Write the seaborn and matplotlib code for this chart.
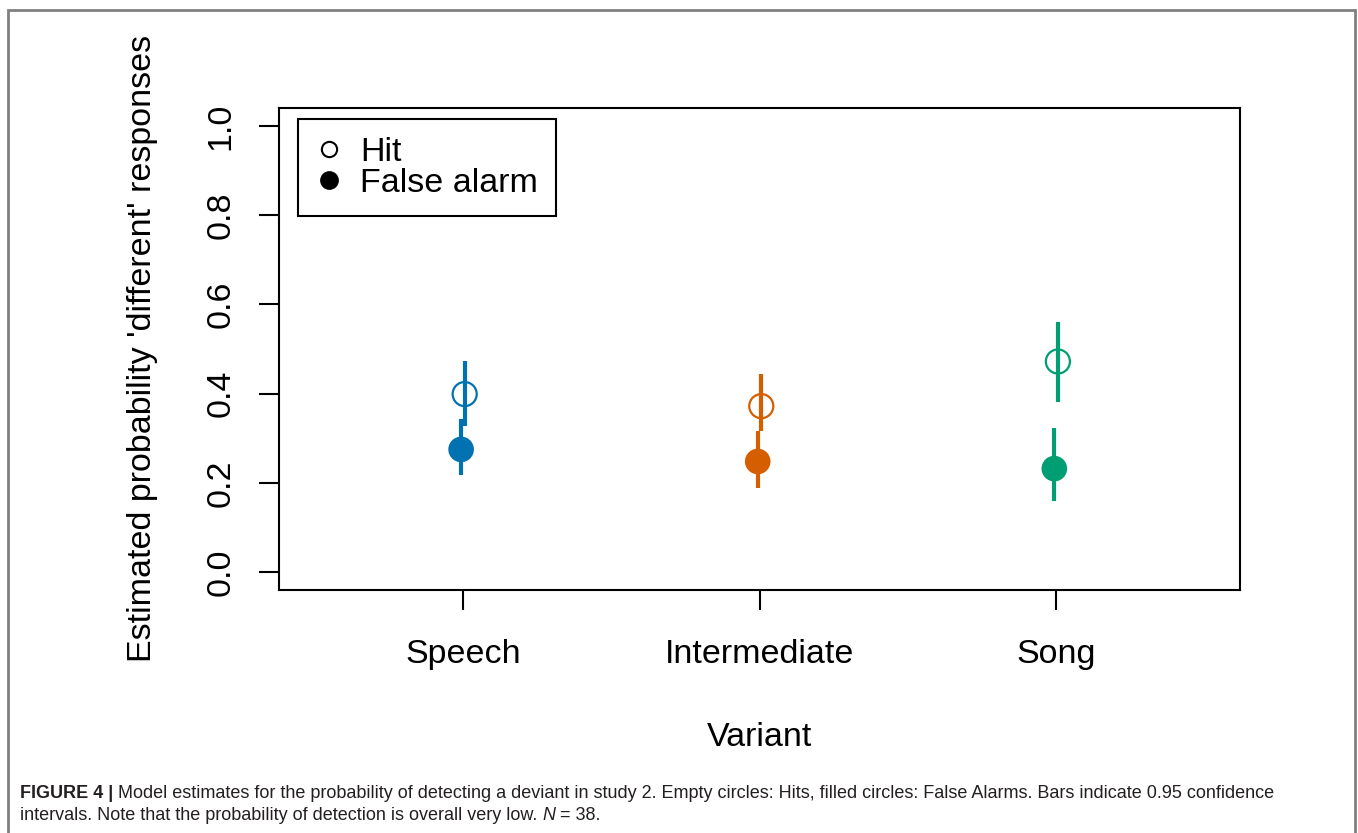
import numpy as np
import pandas as pd
import seaborn as sns
import matplotlib.pyplot as plt
from matplotlib.lines import Line2D
from matplotlib.patches import Rectangle

# Values
variants = ['Speech', 'Intermediate', 'Song']
variant_colors = ['#0072B2', '#D55E00', '#009E73']

hit_est = [0.399, 0.372, 0.472]
hit_lo = [0.327, 0.316, 0.381]
hit_hi = [0.474, 0.445, 0.560]

fa_est = [0.275, 0.248, 0.232]
fa_lo = [0.218, 0.189, 0.160]
fa_hi = [0.343, 0.316, 0.322]

y_ticks = [0.0, 0.2, 0.4, 0.6, 0.8, 1.0]

# long table
rows = []
for i, v in enumerate(variants):
    rows.append(dict(variant=v, response='Hit', pos=i + 0.006,
                     est=hit_est[i], lo=hit_lo[i], hi=hit_hi[i]))
    rows.append(dict(variant=v, response='False alarm', pos=i - 0.006,
                     est=fa_est[i], lo=fa_lo[i], hi=fa_hi[i]))
df = pd.DataFrame(rows)
palette = dict(zip(variants, variant_colors))

sns.set_style('ticks')
plt.rcParams['font.family'] = ['Liberation Sans', 'DejaVu Sans']
plt.rcParams['text.color'] = 'black'
plt.rcParams['axes.labelcolor'] = 'black'

W, H = 1358, 833
fig = plt.figure(figsize=(W / 100, H / 100), dpi=100)
ax = fig.add_axes([279 / W, 1 - 590 / H, (1240 - 279) / W, (590 - 108) / H])

# confidence interval bars
for _, r in df.iterrows():
    ax.vlines(r['pos'], r['lo'], r['hi'], color=palette[r['variant']], lw=3, zorder=2)

# false alarms: filled circles
fa = df[df['response'] == 'False alarm']
sns.scatterplot(data=fa, x='pos', y='est', hue='variant', palette=palette,
                s=340, marker='o', linewidth=0, legend=False, ax=ax, zorder=3)

# hits: empty circles
hit = df[df['response'] == 'Hit']
sns.scatterplot(data=hit, x='pos', y='est', hue='variant', palette=palette,
                s=300, marker='o', linewidth=1.6, legend=False, ax=ax, zorder=3)
coll = ax.collections[-1]
coll.set_edgecolors(coll.get_facecolors())
coll.set_facecolors('none')

ax.set_xlim(-0.62, 2.62)
ax.set_ylim(-0.04, 1.04)
ax.set_xticks(range(len(variants)))
ax.set_xticklabels(variants)
ax.set_yticks(y_ticks)
ax.set_yticklabels([f'{t:.1f}' for t in y_ticks], rotation=90, va='center')
ax.tick_params(axis='both', labelsize=24.5, length=14.5, width=1.5, color='black',
               labelcolor='black')
ax.tick_params(axis='x', pad=21)
ax.tick_params(axis='y', pad=16)
for s in ax.spines.values():
    s.set_visible(True)
    s.set_linewidth(1.5)
    s.set_color('black')

ax.set_xlabel('Variant', fontsize=24.5, va='center', color='black')
ax.xaxis.set_label_coords(0.5005, -0.307)
ax.set_ylabel("Estimated probability 'different' responses", fontsize=24.5,
              va='center', color='black')
ax.yaxis.set_label_coords(-0.142, 0.502)

handles = [
    Line2D([], [], ls='none', marker='o', ms=11, mfc='white', mec='black', mew=1.5),
    Line2D([], [], ls='none', marker='o', ms=12, mfc='black', mec='black', mew=1.5),
]
leg = ax.legend(handles, ['Hit', 'False alarm'], loc='upper left',
                bbox_to_anchor=(298 / W, 1 - 119 / H), bbox_transform=fig.transFigure,
                borderaxespad=0, fontsize=24.5, frameon=True, fancybox=False,
                framealpha=1, edgecolor='black', borderpad=0.52, labelspacing=0.0,
                handlelength=0.8, handletextpad=0.5)
leg.get_frame().set_linewidth(1.5)
for t in leg.get_texts():
    t.set_color('black')

# outer frame of the figure panel
fig.patches.append(Rectangle((8 / W, -0.05), (1355 - 8) / W, 1.05 - 10 / H,
                             transform=fig.transFigure, fill=False,
                             edgecolor='#808080', lw=2))

# caption
cap_color = '#231F20'
cap_size = 13.0
renderer = fig.canvas.get_renderer()


def put_pieces(pieces, x0, y):
    x = x0
    for txt, kw in pieces:
        t = fig.text(x / W, 1 - y / H, txt, fontsize=cap_size, color=cap_color,
                     va='center', ha='left', **kw)
        bb = t.get_window_extent(renderer=renderer)
        x += bb.width


put_pieces([('FIGURE 4 | ', dict(fontweight='bold')),
            ('Model estimates for the probability of detecting a deviant in study 2. '
             'Empty circles: Hits, filled circles: False Alarms. Bars indicate 0.95 confidence',
             {})], 20, 793)
put_pieces([('intervals. Note that the probability of detection is overall very low. ', {}),
            ('N', dict(style='italic')),
            (' = 38.', {})], 20, 816)

fig.savefig('out.png', dpi=100)
